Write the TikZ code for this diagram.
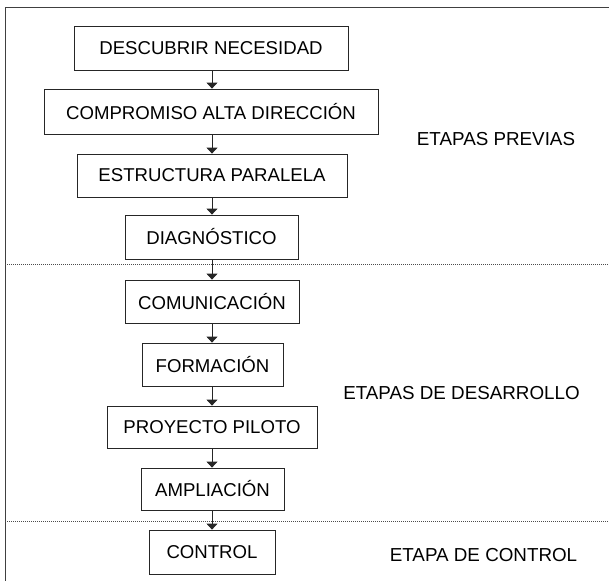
\documentclass[tikz,border=0pt]{standalone}
\usepackage{fontspec}
\setmainfont{Liberation Sans}
\usetikzlibrary{arrows.meta}
\begin{document}
\begin{tikzpicture}[x=1pt,y=-1pt,
  stage/.style={draw=black!85,line width=0.8pt,inner sep=0pt,font=\fontsize{18.6}{20}\selectfont,text=black},
  lbl/.style={inner sep=0pt,font=\fontsize{18.8}{20}\selectfont,text=black},
  flow/.style={draw=black!85,line width=0.9pt,-{Triangle[length=6pt,width=11pt]}},
  sep/.style={draw=black!70,line width=0.7pt,dash pattern=on 1pt off 1pt},
  frame/.style={draw=black!75,line width=0.9pt}]
\useasboundingbox (0,0) rectangle (609,581);
\coordinate (tl) at (5,7);
\coordinate (tr) at (609,7);
\coordinate (bl) at (5,581);
\draw[frame] (tr) -- (tl) -- (bl);
\node[stage,minimum width=274pt,minimum height=44pt] (n1) at (211,48) {DESCUBRIR NECESIDAD};
\node[stage,minimum width=334pt,minimum height=45pt] (n2) at (211,111.5) {COMPROMISO ALTA DIRECCIÓN};
\node[stage,minimum width=270pt,minimum height=43pt] (n3) at (212,175.5) {ESTRUCTURA PARALELA};
\node[stage,minimum width=173pt,minimum height=44pt] (n4) at (211.5,237) {DIAGNÓSTICO};
\node[stage,minimum width=174pt,minimum height=43pt] (n5) at (212,301.5) {COMUNICACIÓN};
\node[stage,minimum width=141pt,minimum height=43pt] (n6) at (212.5,364.5) {FORMACIÓN};
\node[stage,minimum width=210pt,minimum height=42pt] (n7) at (212,427) {PROYECTO PILOTO};
\node[stage,minimum width=143pt,minimum height=42pt] (n8) at (212.5,489) {AMPLIACIÓN};
\node[stage,minimum width=126pt,minimum height=44pt] (n9) at (212,552) {CONTROL};
\foreach \a/\b in {n1/n2,n2/n3,n3/n4,n4/n5,n5/n6,n6/n7,n7/n8,n8/n9}
  \draw[flow] (\a.south -| 212,0) -- (\b.north -| 212,0);
\coordinate (s1l) at (5,264);
\coordinate (s1r) at (609,264);
\coordinate (s2l) at (5,521);
\coordinate (s2r) at (609,521);
\draw[sep] (s1l) -- (s1r);
\draw[sep] (s2l) -- (s2r);
\node[lbl] (e1) at (496,139) {ETAPAS PREVIAS};
\node[lbl] (e2) at (461.5,393) {ETAPAS DE DESARROLLO};
\node[lbl] (e3) at (483.5,555) {ETAPA DE CONTROL};
\end{tikzpicture}
\end{document}
